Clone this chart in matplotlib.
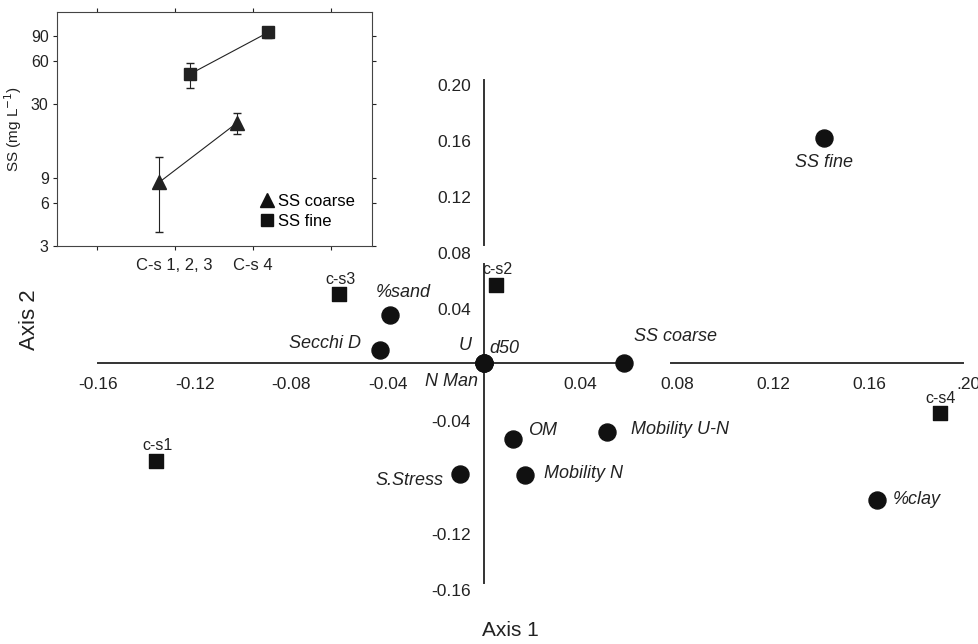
import matplotlib
matplotlib.use("Agg")
import matplotlib.pyplot as plt
from matplotlib.lines import Line2D
from matplotlib.ticker import FixedLocator, NullLocator

plt.rcParams['font.family'] = ['Liberation Sans', 'DejaVu Sans']

# variables (circles) in the ordination
var_names = ['SS fine', '%sand', 'Secchi D', 'U', 'd50', 'N Man', 'SS coarse',
             'OM', 'Mobility U-N', 'S.Stress', 'Mobility N', '%clay']
var_x = [0.141, -0.039, -0.043, 0.0, 0.0, 0.0, 0.058,
         0.012, 0.051, -0.010, 0.017, 0.163]
var_y = [0.161, 0.034, 0.009, 0.0, 0.0, 0.0, 0.0,
         -0.054, -0.049, -0.079, -0.080, -0.098]

# sampling sites (squares)
site_names = ['c-s1', 'c-s2', 'c-s3', 'c-s4']
site_x = [-0.136, 0.005, -0.060, 0.189]
site_y = [-0.070, 0.056, 0.049, -0.036]

# tick labels of the crossing axes
xtick_vals = [-0.16, -0.12, -0.08, -0.04, 0.04, 0.08, 0.12, 0.16]
ytick_vals = [0.20, 0.16, 0.12, 0.08, 0.04, -0.04, -0.12, -0.16]

# inset data (log scale)
cats = ['C-s 1, 2, 3', 'C-s 4']
coarse_mean = [8.4, 22.0]
coarse_lo = [3.75, 18.5]
coarse_hi = [12.6, 25.8]
fine_mean = [48.5, 95.0]
fine_lo = [38.5, 87.0]
fine_hi = [58.0, 104.0]

# label offsets in pixels (dx, dy, ha)
var_off = {'SS fine': (0, -25, 'center'), '%sand': (13, 23, 'center'),
           'Secchi D': (-19, 7, 'right'), 'U': (-12, 17, 'right'),
           'd50': (5, 14, 'left'), 'N Man': (-6, -19, 'right'),
           'SS coarse': (10, 26, 'left'), 'OM': (15, 8, 'left'),
           'Mobility U-N': (24, 2, 'left'), 'S.Stress': (-16, -7, 'right'),
           'Mobility N': (19, 1, 'left'), '%clay': (16, 1, 'left')}

fig = plt.figure(figsize=(9.79, 6.44), dpi=100)
ax = fig.add_axes([0, 0, 1, 1])
ax.set_xlim(-484 / 2411, (979 - 484) / 2411)
ax.set_ylim((363 - 644) / 1400, 363 / 1400)
ax.axis('off')

# crossing axes (with the small breaks seen in the figure)
ax.plot([-0.160, 0.0615], [0, 0], color='#333333', lw=1.4, zorder=1)
ax.plot([0.0775, 0.1985], [0, 0], color='#333333', lw=1.4, zorder=1)
ax.plot([0, 0], [0.202, 0.084], color='#333333', lw=1.4, zorder=1)
ax.plot([0, 0], [0.071, -0.157], color='#333333', lw=1.4, zorder=1)

for v in xtick_vals:
    ax.annotate('%.2f' % v, xy=(v, 0), xytext=(0, -22), textcoords='offset pixels',
                ha='center', va='center', fontsize=12.5, color='#222222')
ax.annotate('.20', xy=(0.20, 0), xytext=(-10, -22), textcoords='offset pixels',
            ha='left', va='center', fontsize=12.5, color='#222222')
for v in ytick_vals:
    ax.annotate('%.2f' % v, xy=(0, v), xytext=(-13, -4), textcoords='offset pixels',
                ha='right', va='center', fontsize=12.5, color='#222222')

ax.scatter(var_x, var_y, s=150, marker='o', color='#111111', zorder=3)
ax.scatter(site_x, site_y, s=95, marker='s', color='#111111', zorder=3)

for name, x, y in zip(var_names, var_x, var_y):
    dx, dy, ha = var_off[name]
    ax.annotate(name, xy=(x, y), xytext=(dx, dy), textcoords='offset pixels',
                ha=ha, va='center', fontsize=13, style='italic', color='#222222')
for name, x, y in zip(site_names, site_x, site_y):
    ax.annotate(name, xy=(x, y), xytext=(1, 15), textcoords='offset pixels',
                ha='center', va='center', fontsize=11.5, color='#222222')

fig.text(30 / 979, 1 - 320 / 644, 'Axis 2', rotation=90, ha='center', va='center',
         fontsize=16, color='#222222')
fig.text(510 / 979, 1 - 631 / 644, 'Axis 1', ha='center', va='center',
         fontsize=15, color='#222222')

# inset
ins = fig.add_axes([57 / 979, 1 - 246 / 644, 315 / 979, 234 / 644])
ins.set_yscale('log')
ins.set_ylim(3, 132)
ins.set_xlim(-0.51, 3.53)
xc = [0.8, 1.8]
xf = [1.2, 2.2]
ins.errorbar(xc, coarse_mean,
             yerr=[[m - l for m, l in zip(coarse_mean, coarse_lo)],
                   [h - m for m, h in zip(coarse_mean, coarse_hi)]],
             color='#222222', lw=0.8, marker='^', ms=10, capsize=3,
             elinewidth=0.8)
ins.errorbar(xf, fine_mean,
             yerr=[[m - l for m, l in zip(fine_mean, fine_lo)],
                   [h - m for m, h in zip(fine_mean, fine_hi)]],
             color='#222222', lw=0.8, marker='s', ms=9, capsize=3,
             elinewidth=0.8)
ins.yaxis.set_major_locator(FixedLocator([3, 6, 9, 30, 60, 90]))
ins.yaxis.set_minor_locator(NullLocator())
ins.set_yticklabels(['3', '6', '9', '30', '60', '90'])
ins.set_xticks([0, 1, 2, 3])
ins.set_xticklabels(['', cats[0], cats[1], ''])
ins.tick_params(direction='out', top=True, right=True, length=3, colors='#222222')
ins.tick_params(axis='y', labelsize=11.5, pad=3)
ins.tick_params(axis='x', labelsize=12, pad=6)
ins.tick_params(axis='y', which='both', right=True, direction='in')
ins.yaxis.set_tick_params(which='major', direction='out', left=True)
ins.set_ylabel('SS (mg L$^{-1}$)', fontsize=11, color='#222222', labelpad=5)
for sp in ins.spines.values():
    sp.set_color('#444444')
    sp.set_linewidth(0.8)
handles = [Line2D([], [], ls='none', marker='^', ms=10, color='#111111'),
           Line2D([], [], ls='none', marker='s', ms=8, color='#111111')]
ins.legend(handles, ['SS coarse', 'SS fine'], loc='lower right', frameon=False,
           fontsize=12, handlelength=0.8, handletextpad=0.3, labelspacing=0.3,
           borderaxespad=0.6)

fig.savefig('out.png', dpi=100)
